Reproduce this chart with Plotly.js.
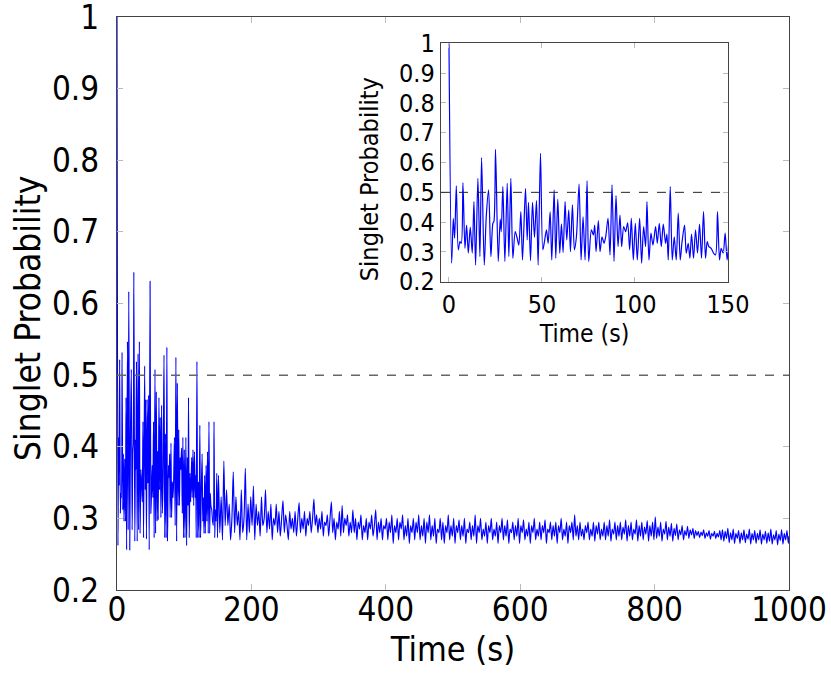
<!DOCTYPE html>
<html>
<head>
<meta charset="utf-8">
<script src="https://cdn.plot.ly/plotly-3.0.1.min.js"></script>
<style>
  body { margin: 0; background: #fff; }
  #chart { width: 831px; height: 687px; }
</style>
</head>
<body>
<div id="chart"></div>
<script>
// first 150 s (peaks and troughs)
const tEarly = [0, 1.43, 2.33, 3.04, 3.94, 5.01, 5.9, 6.62, 7.51, 8.59, 9.48, 10.38, 11.45, 12.52, 13.42, 14.31,
  15.56, 16.64, 17.53, 18.96, 20.04, 21.29, 22.54, 23.61, 24.15, 25.04, 26.48, 27.55, 28.09, 28.98, 30.05,
  31.31, 32.2, 33.27, 34.35, 35.6, 36.67, 37.57, 38.64, 39.53, 41.14, 42.04, 42.75, 43.83, 44.9, 45.97,
  47.05, 47.94, 49.19, 50.45, 51.34, 52.42, 53.31, 54.38, 55.28, 56.53, 57.42, 58.5, 59.57, 60.47, 61.36,
  62.43, 63.33, 64.4, 65.3, 66.37, 67.44, 68.52, 69.95, 71.02, 72.09, 73.17, 74.24, 75.13, 76.56, 77.64,
  78.35, 79.07, 80.32, 81.22, 82.29, 83.36, 84.26, 85.51, 86.58, 87.66, 88.73, 89.8, 90.88, 91.95, 92.84,
  93.92, 94.99, 96.06, 97.14, 98.03, 99.11, 100.18, 101.25, 102.5, 103.58, 104.65, 105.72, 106.44, 107.51,
  108.59, 109.66, 111.09, 111.99, 113.06, 114.13, 115.21, 116.46, 117.17, 117.89, 118.96, 120.04, 121.11,
  122.18, 123.26, 124.33, 125.22, 126.65, 127.55, 128.62, 129.52, 130.41, 131.48, 132.56, 133.63, 134.7,
  135.78, 136.85, 137.92, 138.82, 139.71, 140.97, 142.22, 143.29, 144.37, 145.44, 146.33, 147.41, 148.48, 149.55];
const pEarly = [1.0, 0.262, 0.413, 0.346, 0.522, 0.307, 0.335, 0.329, 0.532, 0.312, 0.39, 0.296, 0.383, 0.296, 0.469, 0.256,
  0.547, 0.284, 0.617, 0.256, 0.418, 0.508, 0.284, 0.396, 0.402, 0.644, 0.268, 0.41, 0.368, 0.519, 0.268,
  0.53, 0.284, 0.547, 0.279, 0.368, 0.346, 0.323, 0.435, 0.273, 0.513, 0.34, 0.466, 0.271, 0.466, 0.349,
  0.472, 0.256, 0.631, 0.307, 0.335, 0.374, 0.329, 0.435, 0.273, 0.508, 0.279, 0.477, 0.296, 0.394, 0.298,
  0.469, 0.34, 0.441, 0.301, 0.458, 0.307, 0.351, 0.528, 0.273, 0.418, 0.273, 0.539, 0.268, 0.374, 0.357,
  0.39, 0.301, 0.405, 0.301, 0.351, 0.329, 0.351, 0.413, 0.29, 0.525, 0.268, 0.489, 0.318, 0.424, 0.318,
  0.385, 0.368, 0.398, 0.307, 0.413, 0.273, 0.396, 0.273, 0.413, 0.262, 0.385, 0.318, 0.469, 0.273,
  0.363, 0.323, 0.385, 0.329, 0.396, 0.318, 0.393, 0.329, 0.36, 0.273, 0.519, 0.273, 0.351,
  0.273, 0.43, 0.273, 0.329, 0.39, 0.296, 0.329, 0.279, 0.36, 0.279, 0.374, 0.296, 0.393,
  0.279, 0.435, 0.279, 0.335, 0.318, 0.312, 0.296, 0.29, 0.435, 0.273, 0.312, 0.296, 0.363, 0.273];

// 151 s to 999 s every 2 s
const lateStart = 151;
const lateStep = 2;
const pLate = [
  0.36, 0.28, 0.33, 0.27, 0.38, 0.29, 0.34, 0.29, 0.32, 0.27, 0.30, 0.365, 0.28, 0.33, 0.29, 0.31, 0.27, 0.34, 0.28, 0.30, 0.37, 0.27, 0.32, 0.28, 0.33,
  0.29, 0.345, 0.27, 0.32, 0.29, 0.31, 0.275, 0.33, 0.29, 0.30, 0.34, 0.28, 0.31, 0.285, 0.32, 0.27, 0.30, 0.29, 0.32, 0.28, 0.31, 0.275, 0.30, 0.325, 0.28,
  0.305, 0.29, 0.27, 0.31, 0.285, 0.30, 0.28, 0.31, 0.275, 0.30, 0.322, 0.28, 0.30, 0.285, 0.31, 0.275, 0.30, 0.29, 0.31, 0.28, 0.30, 0.327, 0.29, 0.305, 0.28,
  0.30, 0.285, 0.31, 0.275, 0.295, 0.29, 0.305, 0.275, 0.30, 0.323, 0.28, 0.30, 0.27, 0.295, 0.285, 0.31, 0.275, 0.318, 0.28, 0.30, 0.29, 0.305, 0.275, 0.295, 0.28,
  0.312, 0.28, 0.30, 0.27, 0.295, 0.285, 0.305, 0.27, 0.29, 0.28, 0.30, 0.27, 0.295, 0.285, 0.305, 0.275, 0.29, 0.312, 0.27, 0.295, 0.28, 0.30, 0.27, 0.29, 0.285,
  0.30, 0.27, 0.295, 0.28, 0.305, 0.265, 0.29, 0.28, 0.30, 0.27, 0.295, 0.285, 0.305, 0.27, 0.29, 0.275, 0.30, 0.265, 0.29, 0.28, 0.30, 0.27, 0.295, 0.28, 0.305,
  0.27, 0.29, 0.275, 0.30, 0.265, 0.295, 0.28, 0.305, 0.27, 0.29, 0.275, 0.30, 0.265, 0.285, 0.28, 0.30, 0.27, 0.295, 0.265, 0.29, 0.28, 0.305, 0.27, 0.29, 0.275,
  0.30, 0.265, 0.29, 0.28, 0.298, 0.27, 0.29, 0.275, 0.30, 0.265, 0.285, 0.28, 0.295, 0.27, 0.29, 0.275, 0.305, 0.265, 0.29, 0.28, 0.30, 0.27, 0.285, 0.275, 0.295,
  0.265, 0.29, 0.28, 0.30, 0.27, 0.285, 0.275, 0.295, 0.265, 0.29, 0.28, 0.30, 0.27, 0.29, 0.275, 0.298, 0.265, 0.285, 0.28, 0.295, 0.27, 0.29, 0.275, 0.30, 0.265,
  0.29, 0.28, 0.298, 0.27, 0.285, 0.275, 0.295, 0.265, 0.29, 0.28, 0.30, 0.27, 0.285, 0.275, 0.295, 0.27, 0.29, 0.28, 0.298, 0.265, 0.285, 0.28, 0.295, 0.27, 0.29,
  0.275, 0.295, 0.265, 0.29, 0.28, 0.30, 0.27, 0.285, 0.275, 0.295, 0.265, 0.29, 0.28, 0.295, 0.27, 0.305, 0.275, 0.29, 0.27, 0.295, 0.275, 0.285, 0.27, 0.29, 0.28,
  0.295, 0.27, 0.285, 0.275, 0.295, 0.268, 0.29, 0.278, 0.295, 0.27, 0.285, 0.275, 0.295, 0.27, 0.29, 0.275, 0.298, 0.268, 0.285, 0.278, 0.295, 0.27, 0.29, 0.275, 0.295,
  0.27, 0.288, 0.278, 0.298, 0.268, 0.29, 0.275, 0.295, 0.27, 0.285, 0.278, 0.298, 0.268, 0.29, 0.275, 0.295, 0.27, 0.288, 0.278, 0.297, 0.268, 0.29, 0.275, 0.295, 0.27,
  0.302, 0.272, 0.288, 0.275, 0.295, 0.268, 0.285, 0.278, 0.296, 0.27, 0.288, 0.275, 0.293, 0.268, 0.286, 0.276, 0.292, 0.27, 0.284, 0.277, 0.29, 0.27, 0.283, 0.276, 0.289,
  0.272, 0.284, 0.277, 0.286, 0.272, 0.283, 0.276, 0.282, 0.273, 0.281, 0.276, 0.284, 0.272, 0.28, 0.275, 0.283, 0.271, 0.279, 0.275, 0.282, 0.272, 0.279, 0.274, 0.283, 0.27,
  0.284, 0.268, 0.282, 0.272, 0.286, 0.266, 0.28, 0.27, 0.285, 0.265, 0.279, 0.272, 0.283, 0.265, 0.28, 0.27, 0.284, 0.266, 0.278, 0.271, 0.285, 0.264, 0.279, 0.27, 0.283,
  0.265, 0.279, 0.27, 0.284, 0.264, 0.278, 0.27, 0.282, 0.265, 0.28, 0.268, 0.285, 0.264, 0.277, 0.27, 0.283, 0.263, 0.278, 0.269, 0.284, 0.264, 0.279, 0.27, 0.283, 0.265
];
const tEnd = 1000;
const pEnd = 0.275;

const xTicksMain = [0, 200, 400, 600, 800, 1000];
const yTicks = [0.2, 0.3, 0.4, 0.5, 0.6, 0.7, 0.8, 0.9, 1];
const xTicksInset = [0, 50, 100, 150];
const threshold = 0.5;

let times = tEarly.slice();
let probs = pEarly.slice();
pLate.forEach((p, i) => {
  times.push(lateStart + i * lateStep);
  probs.push(p);
});
times.push(tEnd);
probs.push(pEnd);

const fontFam = '"DejaVu Sans Condensed", "Liberation Sans Narrow", "DejaVu Sans", sans-serif';

const mainTrace = {
  x: times, y: probs, type: 'scatter', mode: 'lines',
  line: { color: '#0000ff', width: 1.15, shape: 'spline', smoothing: 0.7 },
  xaxis: 'x', yaxis: 'y', hoverinfo: 'skip'
};
const insetTrace = {
  x: times, y: probs, type: 'scatter', mode: 'lines',
  line: { color: '#0000ff', width: 1.2, shape: 'spline', smoothing: 0.8 },
  xaxis: 'x2', yaxis: 'y2', hoverinfo: 'skip'
};

const axisCommon = {
  showgrid: false, zeroline: false, showline: true, linecolor: '#444', linewidth: 1.2,
  mirror: 'ticks', ticks: 'inside', ticklen: 6, tickcolor: '#bbb', tickwidth: 1,
  ticklabeloverflow: 'allow'
};

const layout = {
  width: 831, height: 687,
  margin: { l: 117, r: 42, t: 17, b: 97 },
  paper_bgcolor: '#fff', plot_bgcolor: '#fff',
  showlegend: false,
  font: { family: fontFam, color: '#000' },
  xaxis: Object.assign({}, axisCommon, {
    domain: [0, 1], range: [0, 1000], tickvals: xTicksMain,
    tickfont: { size: 33 }, ticklabelstandoff: -10,
    title: { text: 'Time (s)', font: { size: 34 }, standoff: 2 }
  }),
  yaxis: Object.assign({}, axisCommon, {
    domain: [0, 1], range: [0.2, 1], tickvals: yTicks,
    tickfont: { size: 33 }, ticklabelstandoff: 10
  }),
  xaxis2: Object.assign({}, axisCommon, {
    domain: [0.4821, 0.9092], range: [-4.3, 150], tickvals: xTicksInset,
    anchor: 'y2', ticklen: 5,
    tickfont: { size: 25 },
    title: { text: 'Time (s)', font: { size: 24.5 }, standoff: 4 }
  }),
  yaxis2: Object.assign({}, axisCommon, {
    domain: [0.538, 0.954], range: [0.2, 1], tickvals: yTicks,
    anchor: 'x2', ticklen: 5,
    tickfont: { size: 25 }
  }),
  annotations: [
    { text: 'Singlet Probability', xref: 'paper', yref: 'paper', x: -0.1324, y: 0.473,
      xanchor: 'center', yanchor: 'middle', textangle: -90, showarrow: false,
      font: { size: 35 } },
    { text: 'Singlet Probability', xref: 'paper', yref: 'paper', x: 0.375, y: 0.717,
      xanchor: 'center', yanchor: 'middle', textangle: -90, showarrow: false,
      font: { size: 25 } }
  ],
  shapes: [
    { type: 'line', xref: 'x', yref: 'y', x0: 0, x1: 1000, y0: threshold, y1: threshold,
      line: { color: '#666', width: 1.5, dash: 'dash' } },
    { type: 'line', xref: 'x2', yref: 'y2', x0: -4.3, x1: 150, y0: threshold, y1: threshold,
      line: { color: '#222', width: 1, dash: 'dash' } }
  ]
};

Plotly.newPlot('chart', [mainTrace, insetTrace], layout, { staticPlot: true });
</script>
</body>
</html>
